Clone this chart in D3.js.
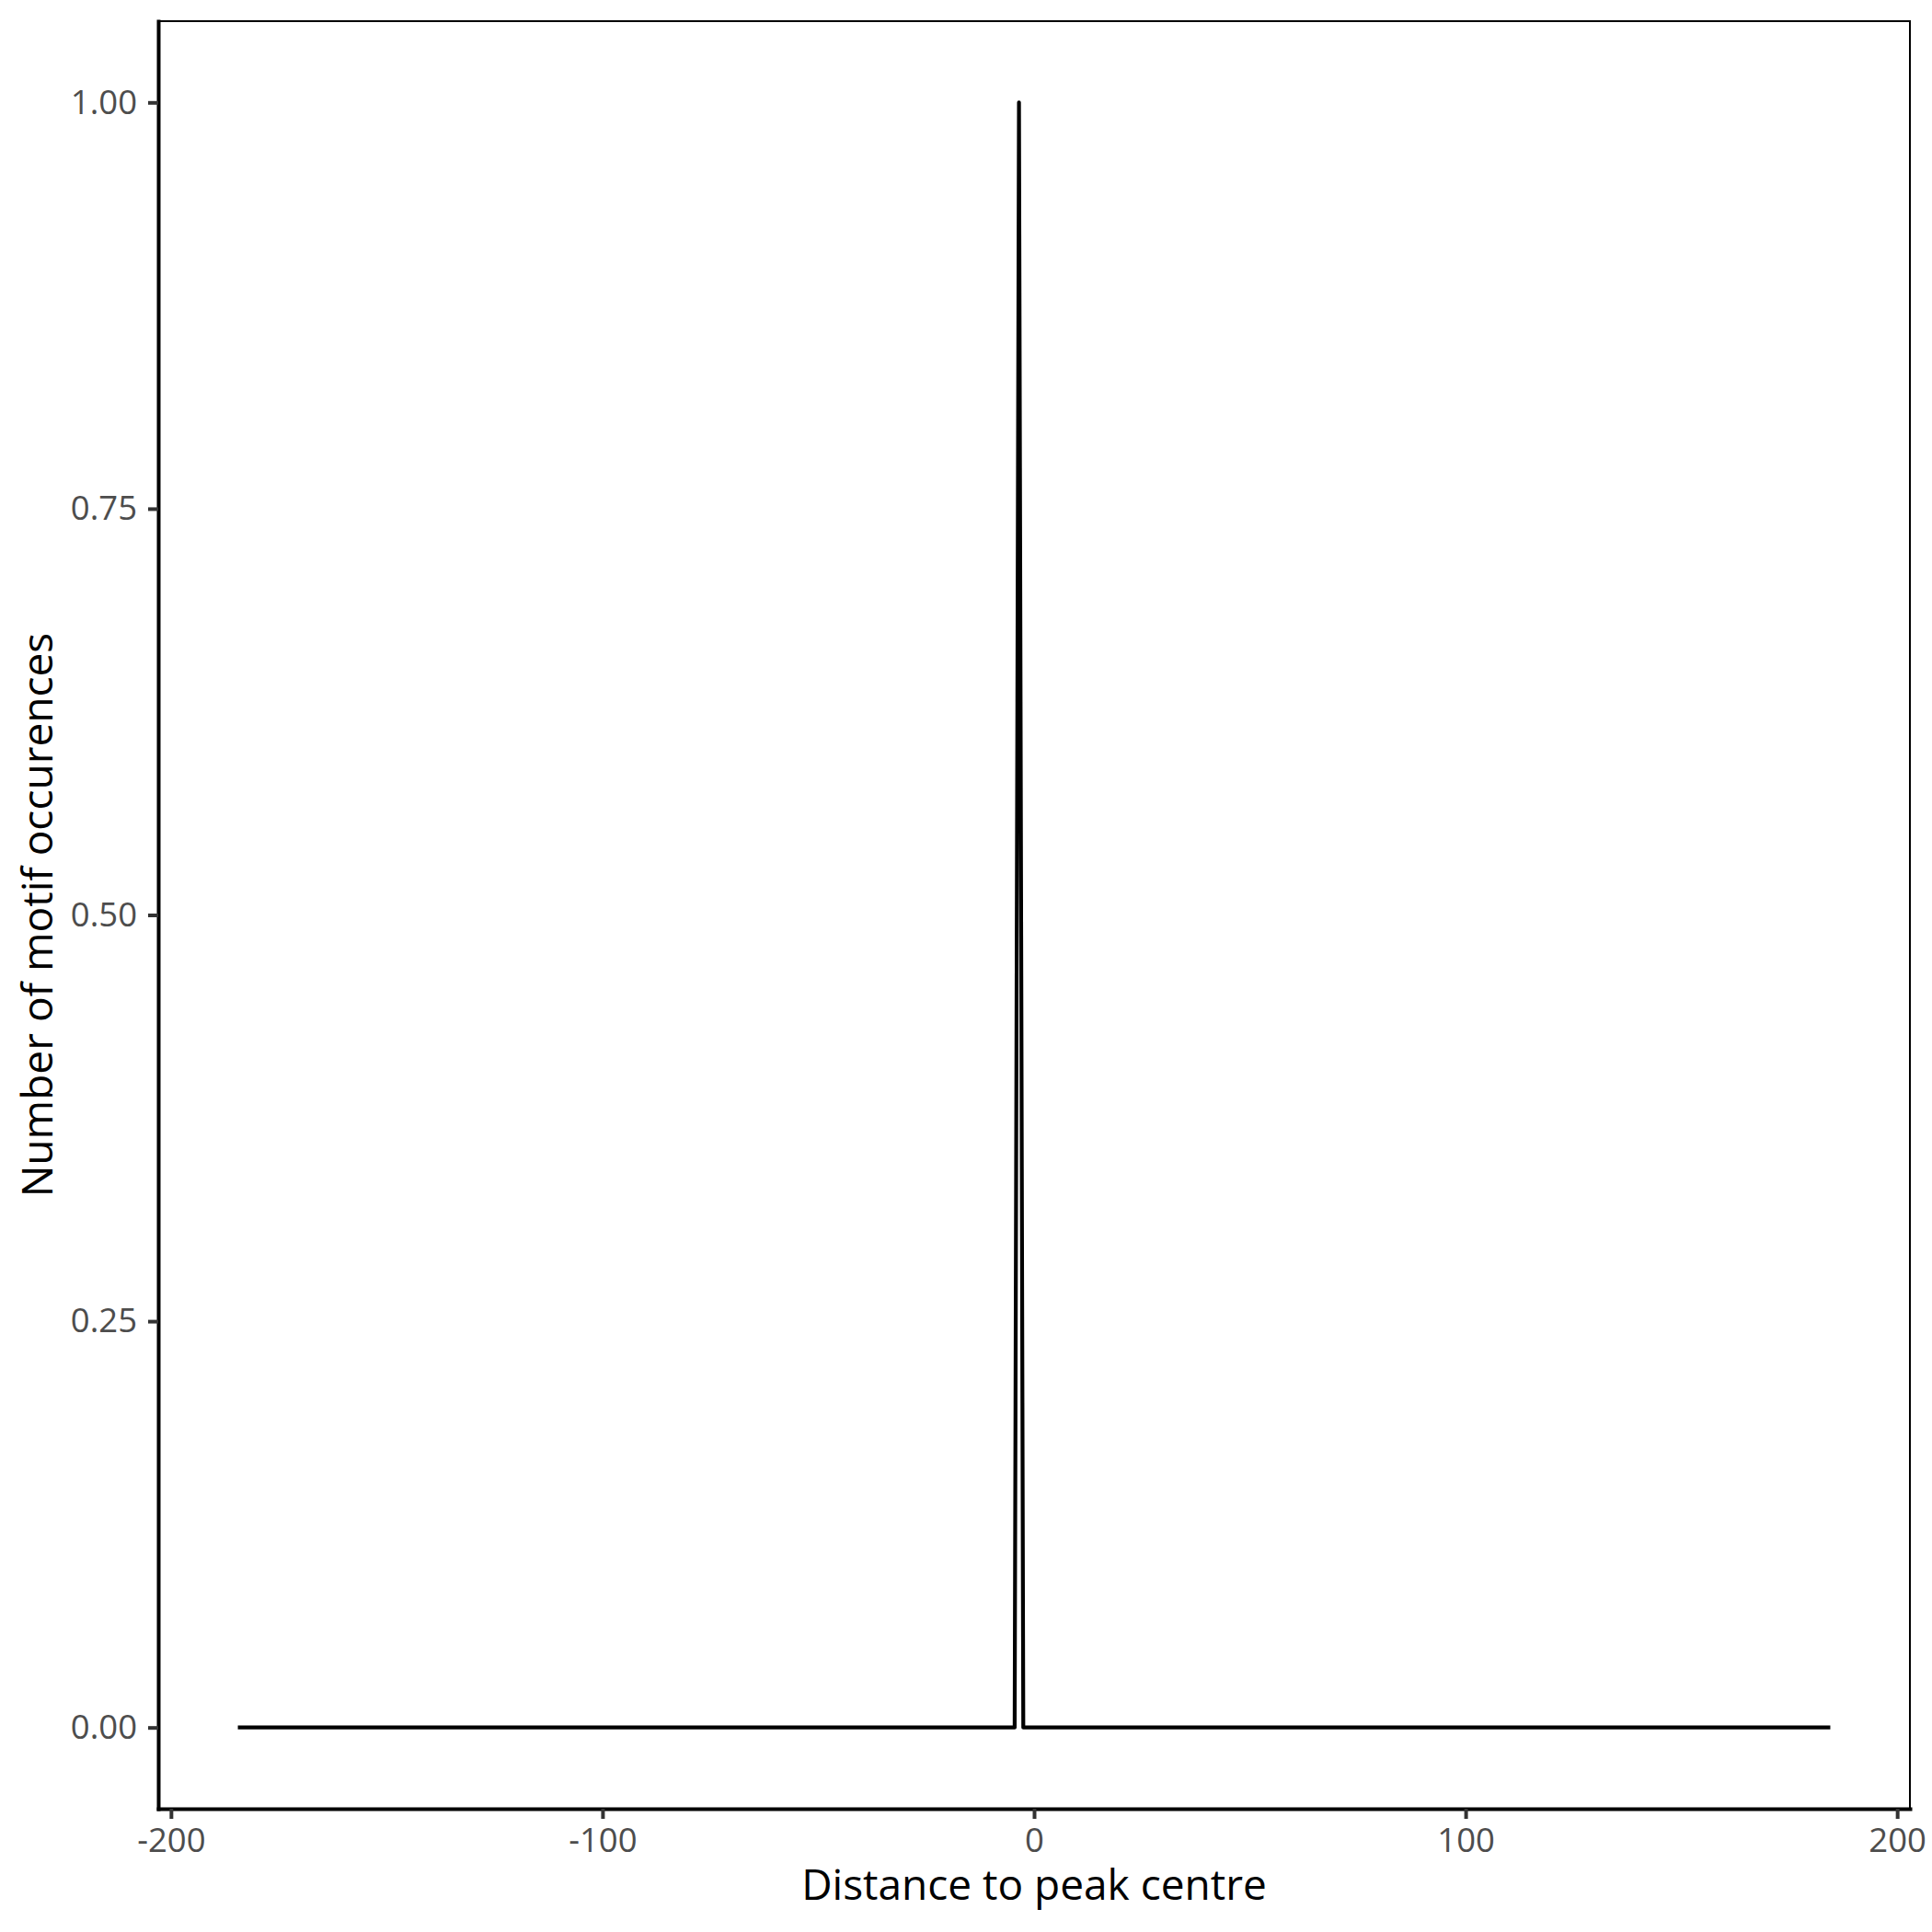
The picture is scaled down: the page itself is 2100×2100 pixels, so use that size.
<!DOCTYPE html>
<html>
<head>
<meta charset="utf-8">
<script src="https://cdn.jsdelivr.net/npm/d3@7"></script>
<style>
  body { margin: 0; background: #fff; }
  svg text { font-family: "Open Sans", "Noto Sans", sans-serif; }
</style>
</head>
<body>
<div id="chart"></div>
<script>
// motif position profile: distance to peak centre vs count
var distances = [-184.5, -4.5, -3.5, -2.5, 184.5];
var counts    = [0, 0, 1, 0, 0];

var xTicks = [-200, -100, 0, 100, 200];
var yTicks = [0, 0.25, 0.5, 0.75, 1];

var xTitle = "Distance to peak centre";
var yTitle = "Number of motif occurences";

var chartWidth = 2100
  , chartHeight = 2100;

// panel box
var margin = {top: 23, right: 24, bottom: 134, left: 172}
  , width = chartWidth - margin.left - margin.right
  , height = chartHeight - margin.top - margin.bottom;

// ggplot style 5% expansion
function expand(ext) {
  var d = (ext[1] - ext[0]) * 0.05;
  return [ext[0] - d, ext[1] + d];
}

var xScale = d3.scaleLinear()
    .domain(expand(d3.extent(distances)))
    .range([0, width]);

var yScale = d3.scaleLinear()
    .domain(expand([0, 1]))
    .range([height, 0]);

var dataset = distances.map(function(d, i) { return {x: d, y: counts[i]}; });

var line = d3.line()
    .x(function(d) { return xScale(d.x); })
    .y(function(d) { return yScale(d.y); });

var svg = d3.select("#chart")
  .append("svg")
    .attr("width", chartWidth)
    .attr("height", chartHeight)
  .append("g")
    .attr("transform", "translate(" + margin.left + "," + margin.top + ")");

// thin top / right border
svg.append("path")
    .attr("d", "M0,0H" + width + "V" + height)
    .attr("fill", "none")
    .attr("stroke", "#000")
    .attr("stroke-width", 2);

// data line
svg.append("path")
    .datum(dataset)
    .attr("fill", "none")
    .attr("stroke", "#000")
    .attr("stroke-width", 4.2)
    .attr("stroke-linejoin", "round")
    .attr("d", line);

// x axis (plain hyphen for negatives, like R)
var xAxis = svg.append("g")
    .attr("transform", "translate(0," + height + ")")
    .call(d3.axisBottom(xScale)
      .tickValues(xTicks)
      .tickFormat(function(d) { return String(d); })
      .tickSize(11)
      .tickSizeOuter(0)
      .tickPadding(10));

// y axis
var yAxis = svg.append("g")
    .call(d3.axisLeft(yScale)
      .tickValues(yTicks)
      .tickFormat(function(d) { return d.toFixed(2); })
      .tickSize(11)
      .tickSizeOuter(0)
      .tickPadding(12));

[xAxis, yAxis].forEach(function(ax) {
  ax.select(".domain")
    .attr("stroke", "#000")
    .attr("stroke-width", 4)
    .attr("stroke-linecap", "square");
  ax.selectAll(".tick line")
    .attr("stroke", "#333")
    .attr("stroke-width", 4);
  ax.selectAll(".tick text")
    .attr("fill", "#4d4d4d")
    .style("font-size", "36.5px");
});

// axis titles
svg.append("text")
    .attr("x", width / 2)
    .attr("y", 2065 - margin.top)
    .attr("text-anchor", "middle")
    .style("font-size", "46px")
    .attr("fill", "#000")
    .text(xTitle);

svg.append("text")
    .attr("transform", "translate(" + (57 - margin.left) + "," + (height / 2) + ") rotate(-90)")
    .attr("text-anchor", "middle")
    .style("font-size", "46px")
    .attr("fill", "#000")
    .text(yTitle);
</script>
</body>
</html>
